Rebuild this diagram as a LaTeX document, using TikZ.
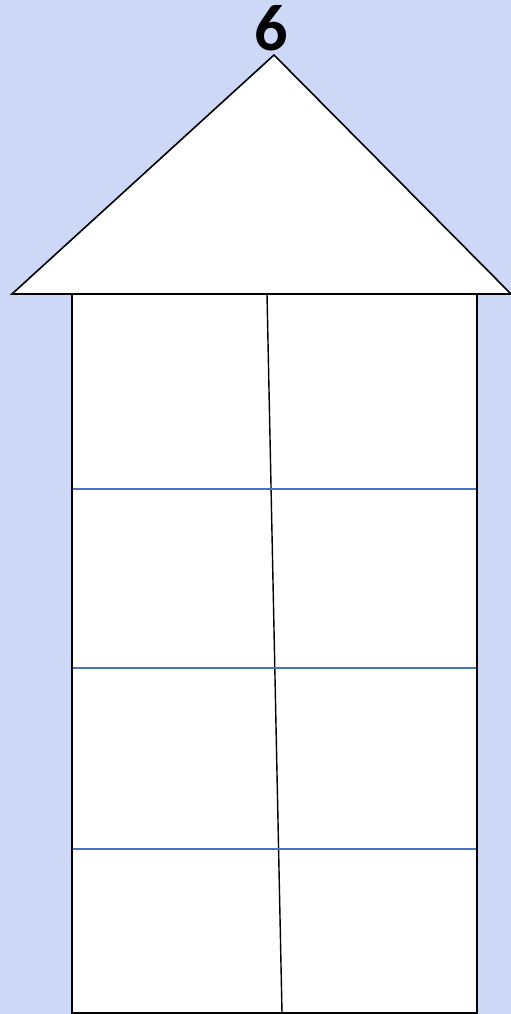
\documentclass[tikz,border=0pt]{standalone}
\usepackage{fontspec}
\setmainfont{Carlito}
\begin{document}
\begin{tikzpicture}[x=1pt,y=-1pt,
  outline/.style={draw=black,line width=1.6pt,fill=white},
  floorline/.style={draw=floorblue,line width=1.8pt},
  wall/.style={draw=black,line width=1.4pt}]
\definecolor{bgblue}{RGB}{205,216,246}
\definecolor{floorblue}{RGB}{68,114,196}
\fill[bgblue] (0,0) rectangle (511,1014);
\useasboundingbox (0,0) rectangle (511,1014);
\coordinate (apex) at (274,55);
\coordinate (bl) at (12,294);
\coordinate (br) at (511,294);
\draw[outline,line join=miter] (bl) -- (apex) -- (br) -- cycle;
\draw[outline] (72,294) rectangle (477,1013);
\coordinate (walltop) at (267,294);
\coordinate (wallbot) at (282,1013);
\draw[wall] (walltop) -- (wallbot);
\foreach \y/\n in {489/a,668/b,849/c}{
  \coordinate (l\n) at (73,\y);
  \coordinate (r\n) at (476,\y);
  \draw[floorline] (l\n) -- (r\n);
}
\node[font=\fontsize{66}{66}\selectfont\bfseries,inner sep=0pt] (num) at (271,28) {6};
\end{tikzpicture}
\end{document}
